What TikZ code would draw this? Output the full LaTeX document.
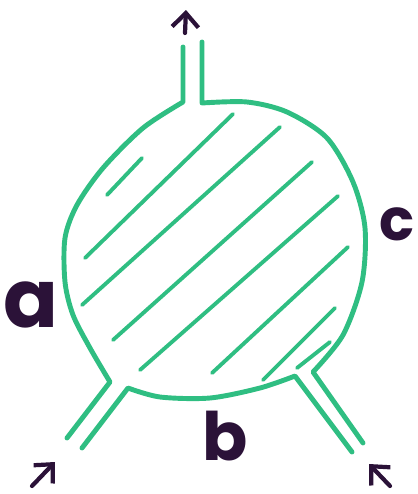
\documentclass[tikz,border=0pt]{standalone}
\usepackage{fontspec}
\setmainfont{Poppins}
\usepackage{tikz}
\usetikzlibrary{arrows.meta}
\definecolor{mk}{HTML}{2FBE82}
\definecolor{ink}{HTML}{2B1238}
\begin{document}
\begin{tikzpicture}[x=0.02cm,y=-0.02cm,
  blob/.style={draw=mk,line width=2.8pt,line cap=round,line join=round},
  hatch/.style={draw=mk,line width=2.2pt,line cap=round},
  flow/.style={-{Straight Barb[length=8pt,width=15pt]},draw=ink,line width=2.4pt,line cap=round},
  lbl/.style={text=ink,inner sep=0pt}]
\useasboundingbox (0,0) rectangle (417,494);
% blob outline with three legs
\draw[blob](202,42)--plot[smooth] coordinates{(202,103)(247,102)(287,112)(327,138)(353,182)(365,228)(362,282)(343,335)(313,372)}--(363,443);
\draw[blob](352,452)--plot[smooth] coordinates{(295,376)(260,388)(210,398)(160,397)(128,388)}--(82,448);
\draw[blob](67,438)--plot[smooth] coordinates{(110,382)(90,348)(73,315)(65,282)(65,238)(77,205)(103,168)(143,128)(183,102)}--(183,47);
% hatching
\foreach \xa/\ya/\xb/\yb in {107/195/142/158,85/258/233/114,82/305/280/127,113/340/312/162,140/370/338/196,212/373/348/247,263/380/335/308,297/368/330/342}
  \draw[hatch](\xa,\ya)--(\xb,\yb);
% external lines
\coordinate(topin) at (185,33);\coordinate(topout) at (186,10);
\coordinate(leftin) at (32,486);\coordinate(leftout) at (55,462);
\coordinate(rightin) at (390,486);\coordinate(rightout) at (369,464);
\draw[flow](topin)--(topout);
\draw[flow](leftin)--(leftout);
\draw[flow](rightin)--(rightout);
\node[lbl,font=\fontsize{46}{46}\selectfont\bfseries](a) at (31,305){a};
\node[lbl,font=\fontsize{38}{38}\selectfont\bfseries](b) at (225,436){b};
\node[lbl,font=\fontsize{33}{33}\selectfont\bfseries](c) at (397,224){c};
\end{tikzpicture}
\end{document}
